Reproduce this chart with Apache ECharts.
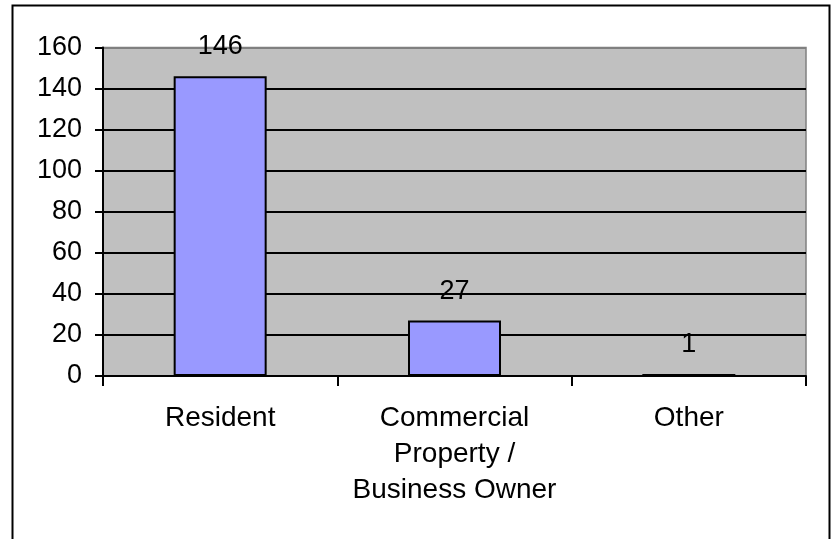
<!DOCTYPE html>
<html>
<head>
<meta charset="utf-8">
<script src="https://cdn.jsdelivr.net/npm/echarts@6/dist/echarts.min.js"></script>
<style>
  html, body { margin: 0; padding: 0; background: #fff; }
  #chart { width: 834px; height: 539px; }
</style>
</head>
<body>
<div id="chart"></div>
<script>
// Respondent categories and their counts
const categories = ['Resident', 'Commercial\nProperty /\nBusiness Owner', 'Other'];
const counts = [146, 27, 1];
const yTicks = { min: 0, max: 160, step: 20 };

const FONT = 'Liberation Sans, Arial, sans-serif';
const chart = echarts.init(document.getElementById('chart'), null, { renderer: 'canvas' });

// gridline colours: black, the top one sits on the grey plot border
const nLines = (yTicks.max - yTicks.min) / yTicks.step + 1;
const gridColors = Array.from({ length: nLines }, (_, i) => i === nLines - 1 ? '#808080' : '#000000');

chart.setOption({
  animation: false,
  backgroundColor: '#ffffff',
  graphic: [{
    type: 'rect',
    left: 10, top: 3,
    shape: { width: 817, height: 560 },
    style: { fill: 'none', stroke: '#000', lineWidth: 2 },
    z: 100
  }],
  grid: {
    left: 103, top: 47.5, right: 28, bottom: 163,
    show: true,
    backgroundColor: '#C0C0C0',
    borderColor: '#808080',
    borderWidth: 1.5,
    containLabel: false
  },
  xAxis: {
    type: 'category',
    data: categories,
    axisLine: { lineStyle: { color: '#000', width: 2 } },
    axisTick: { show: true, alignWithLabel: false, length: 10, lineStyle: { color: '#000', width: 2 } },
    axisLabel: {
      color: '#000', fontFamily: FONT, fontSize: 28, lineHeight: 36,
      margin: 24, interval: 0
    },
    splitLine: { show: false }
  },
  yAxis: {
    type: 'value',
    min: yTicks.min, max: yTicks.max, interval: yTicks.step,
    axisLine: { show: true, lineStyle: { color: '#000', width: 2 } },
    axisTick: { show: true, length: 8, lineStyle: { color: '#000', width: 2 } },
    axisLabel: { color: '#000', fontFamily: FONT, fontSize: 27, margin: 21 },
    splitLine: { show: true, lineStyle: { color: gridColors, width: 2 } }
  },
  series: [{
    type: 'bar',
    data: counts,
    barWidth: 93,
    itemStyle: { color: '#9999FF', borderColor: '#000', borderWidth: 2 },
    label: {
      show: true, position: 'top', distance: 16,
      color: '#000', fontFamily: FONT, fontSize: 27
    }
  }]
});
</script>
</body>
</html>
